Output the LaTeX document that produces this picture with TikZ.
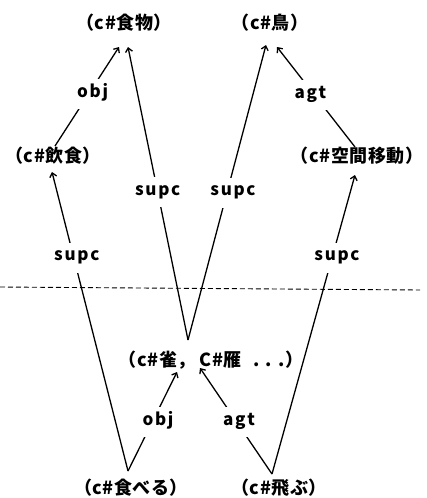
\documentclass[tikz,border=0pt]{standalone}
\usepackage{fontspec}
\setmainfont{Noto Sans CJK JP}
\newfontfamily\jpfont{Noto Sans CJK JP}[LetterSpace=3]
\newfontfamily\labfont{Noto Sans CJK JP}[LetterSpace=10]
\usetikzlibrary{arrows.meta}
\begin{document}
\begin{tikzpicture}[x=1pt,y=1pt,
  concept/.style={inner sep=0pt, font=\jpfont\bfseries\fontsize{18}{20}\selectfont},
  rel/.style={fill=white, inner xsep=3pt, inner ysep=9pt, text height=9pt, text depth=3pt, font=\labfont\bfseries\fontsize{17}{19}\selectfont},
  arr/.style={line width=1.3pt, -{Straight Barb[length=4pt,width=7pt,line width=1.3pt]}},
  sepline/.style={line width=0.9pt, dash pattern=on 5pt off 3pt},
]
\useasboundingbox (0,0) rectangle (426,-498);

% concepts
\node[concept] (food) at (124,-23) {（c\#食物）};
\node[concept] (bird) at (270,-23) {（c\#鳥）};
\node[concept] (eat) at (53,-156) {（c\#飲食）};
\node[concept] (move) at (357,-156) {（c\#空間移動）};
\node[concept] (sparrow) at (211,-360) {（c\#雀，\hspace{4pt}C\#雁\hspace{12pt}.\hspace{6pt}.\hspace{6pt}.）};
\node[concept] (taberu) at (131,-488) {（c\#食べる）};
\node[concept] (tobu) at (279,-488) {（c\#飛ぶ）};

% separator
\coordinate (dl) at (0,-287);
\coordinate (dr) at (420,-290);
\draw[sepline] (dl) -- (dr);

% relations
\draw[arr] ([shift={(2pt,10pt)}]eat.center) -- node[rel,pos=0.525,xshift=4pt] (l1) {obj} ([shift={(-5pt,-24pt)}]food.center);
\draw[arr] ([shift={(-2pt,9pt)}]move.center) -- node[rel,pos=0.52,xshift=-4pt] (l2) {agt} ([shift={(7pt,-24pt)}]bird.center);
\draw[arr] ([shift={(-3pt,17pt)}]taberu.center) -- node[rel,pos=0.713,xshift=3pt] (l5) {supc} ([shift={(-1pt,-16pt)}]eat.center);
\draw[arr] ([shift={(-7pt,14pt)}]tobu.center) -- node[rel,pos=0.723,xshift=5pt] (l6) {supc} ([shift={(-2pt,-19pt)}]move.center);
\draw[arr] ([shift={(-23pt,20pt)}]sparrow.center) -- node[rel,pos=0.505] (l3) {supc} ([shift={(4pt,-24pt)}]food.center);
\draw[arr] ([shift={(-23pt,20pt)}]sparrow.center) -- node[rel,pos=0.5,xshift=6pt] (l4) {supc} ([shift={(-4pt,-22pt)}]bird.center);
\draw[arr] ([shift={(-3pt,17pt)}]taberu.center) -- node[rel,pos=0.49,xshift=6pt] (l7) {obj} ([shift={(-34pt,-12pt)}]sparrow.center);
\draw[arr] ([shift={(-7pt,14pt)}]tobu.center) -- node[rel,pos=0.486,xshift=2pt] (l8) {agt} ([shift={(-11pt,-8pt)}]sparrow.center);
\end{tikzpicture}
\end{document}
